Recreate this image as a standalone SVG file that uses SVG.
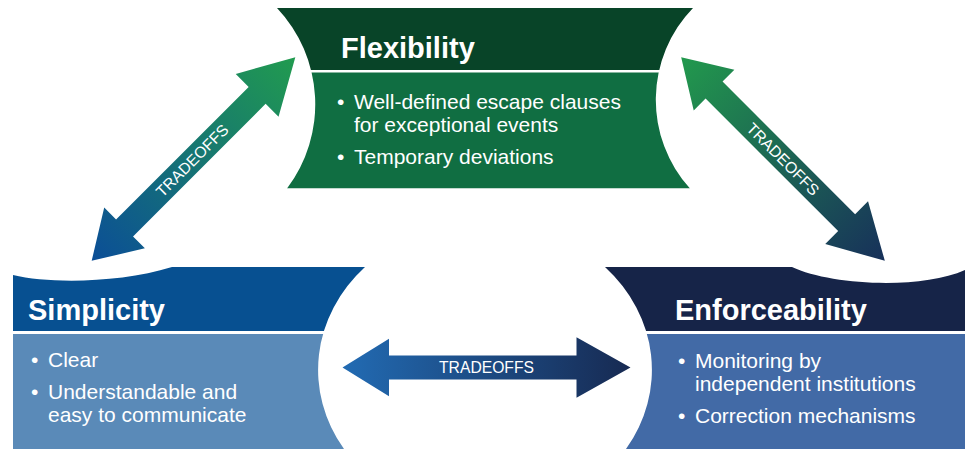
<svg xmlns="http://www.w3.org/2000/svg" width="970" height="449" viewBox="0 0 970 449">
<defs>
<style>
.h{font-family:"Liberation Sans",Arial,sans-serif;font-weight:bold;font-size:29px;fill:#fff}
.b{font-family:"Liberation Sans",Arial,sans-serif;font-size:21px;fill:#fff}
.t{font-family:"Liberation Sans",Arial,sans-serif;font-size:15.7px;fill:#fff;text-anchor:middle}
</style>
<clipPath id="cF"><path d="M277,8 L693,8 A132,132 0 0 0 690,188.5 L287,188.5 A140,140 0 0 0 277,8 Z"/></clipPath>
<clipPath id="cS"><path d="M13,275 C50,284 120,283 172,267 L365,267 A167,148 0 0 0 344,449 L13,449 Z"/></clipPath>
<clipPath id="cE"><path d="M605,267 L792,267 C830,285 920,290 965,270 L965,449 L626,449 A167,148 0 0 0 605,267 Z"/></clipPath>
<linearGradient id="g1" x1="0" y1="0" x2="1" y2="0"><stop offset="0" stop-color="#0b4e97"/><stop offset="1" stop-color="#219b4f"/></linearGradient>
<linearGradient id="g2" x1="0" y1="0" x2="1" y2="0"><stop offset="0" stop-color="#22994d"/><stop offset="1" stop-color="#17305a"/></linearGradient>
<linearGradient id="g3" x1="0" y1="0" x2="1" y2="0"><stop offset="0" stop-color="#226bb3"/><stop offset="1" stop-color="#172a52"/></linearGradient>
<path id="arr" d="M-144,0 L-97.5,-28.75 L-97.5,-12 L90,-12 L90,-30.25 L144,0 L90,30.25 L90,12 L-97.5,12 L-97.5,28.75 Z"/>
</defs>
<rect width="970" height="449" fill="#fff"/>

<g id="flexibility">
<g clip-path="url(#cF)">
<rect x="270" y="8" width="430" height="62" fill="#084428"/>
<rect x="270" y="72.5" width="430" height="116" fill="#106e42"/>
</g>
<text class="h" x="341" y="58">Flexibility</text>
<text class="b" x="337" y="109">•</text>
<text class="b" x="354" y="109">Well-defined escape clauses</text>
<text class="b" x="354" y="132">for exceptional events</text>
<text class="b" x="337" y="164">•</text>
<text class="b" x="354" y="164">Temporary deviations</text>
</g>

<g id="simplicity">
<g clip-path="url(#cS)">
<rect x="10" y="260" width="365" height="71" fill="#075091"/>
<rect x="10" y="334" width="365" height="115" fill="#5a8ab8"/>
</g>
<text class="h" x="28" y="320">Simplicity</text>
<text class="b" x="31" y="367">•</text>
<text class="b" x="48" y="367">Clear</text>
<text class="b" x="31" y="398.5">•</text>
<text class="b" x="48" y="398.5">Understandable and</text>
<text class="b" x="48" y="422">easy to communicate</text>
</g>

<g id="enforceability">
<g clip-path="url(#cE)">
<rect x="600" y="260" width="370" height="71" fill="#162448"/>
<rect x="600" y="334" width="370" height="115" fill="#426aa6"/>
</g>
<text class="h" x="675" y="320">Enforceability</text>
<text class="b" x="678" y="368">•</text>
<text class="b" x="695" y="368">Monitoring by</text>
<text class="b" x="695" y="391">independent institutions</text>
<text class="b" x="678" y="422.5">•</text>
<text class="b" x="695" y="422.5">Correction mechanisms</text>
</g>

<g id="connectors">
<g transform="translate(193.5,159) rotate(-45)">
<use href="#arr" fill="url(#g1)"/>
<text class="t" x="-2" y="5.6">TRADEOFFS</text>
</g>
<g transform="translate(783,159) rotate(45)">
<use href="#arr" fill="url(#g2)"/>
<text class="t" x="0" y="5.6">TRADEOFFS</text>
</g>
<g transform="translate(486.5,367.5)">
<use href="#arr" fill="url(#g3)"/>
<text class="t" x="0" y="5.6">TRADEOFFS</text>
</g>
</g>
</svg>
